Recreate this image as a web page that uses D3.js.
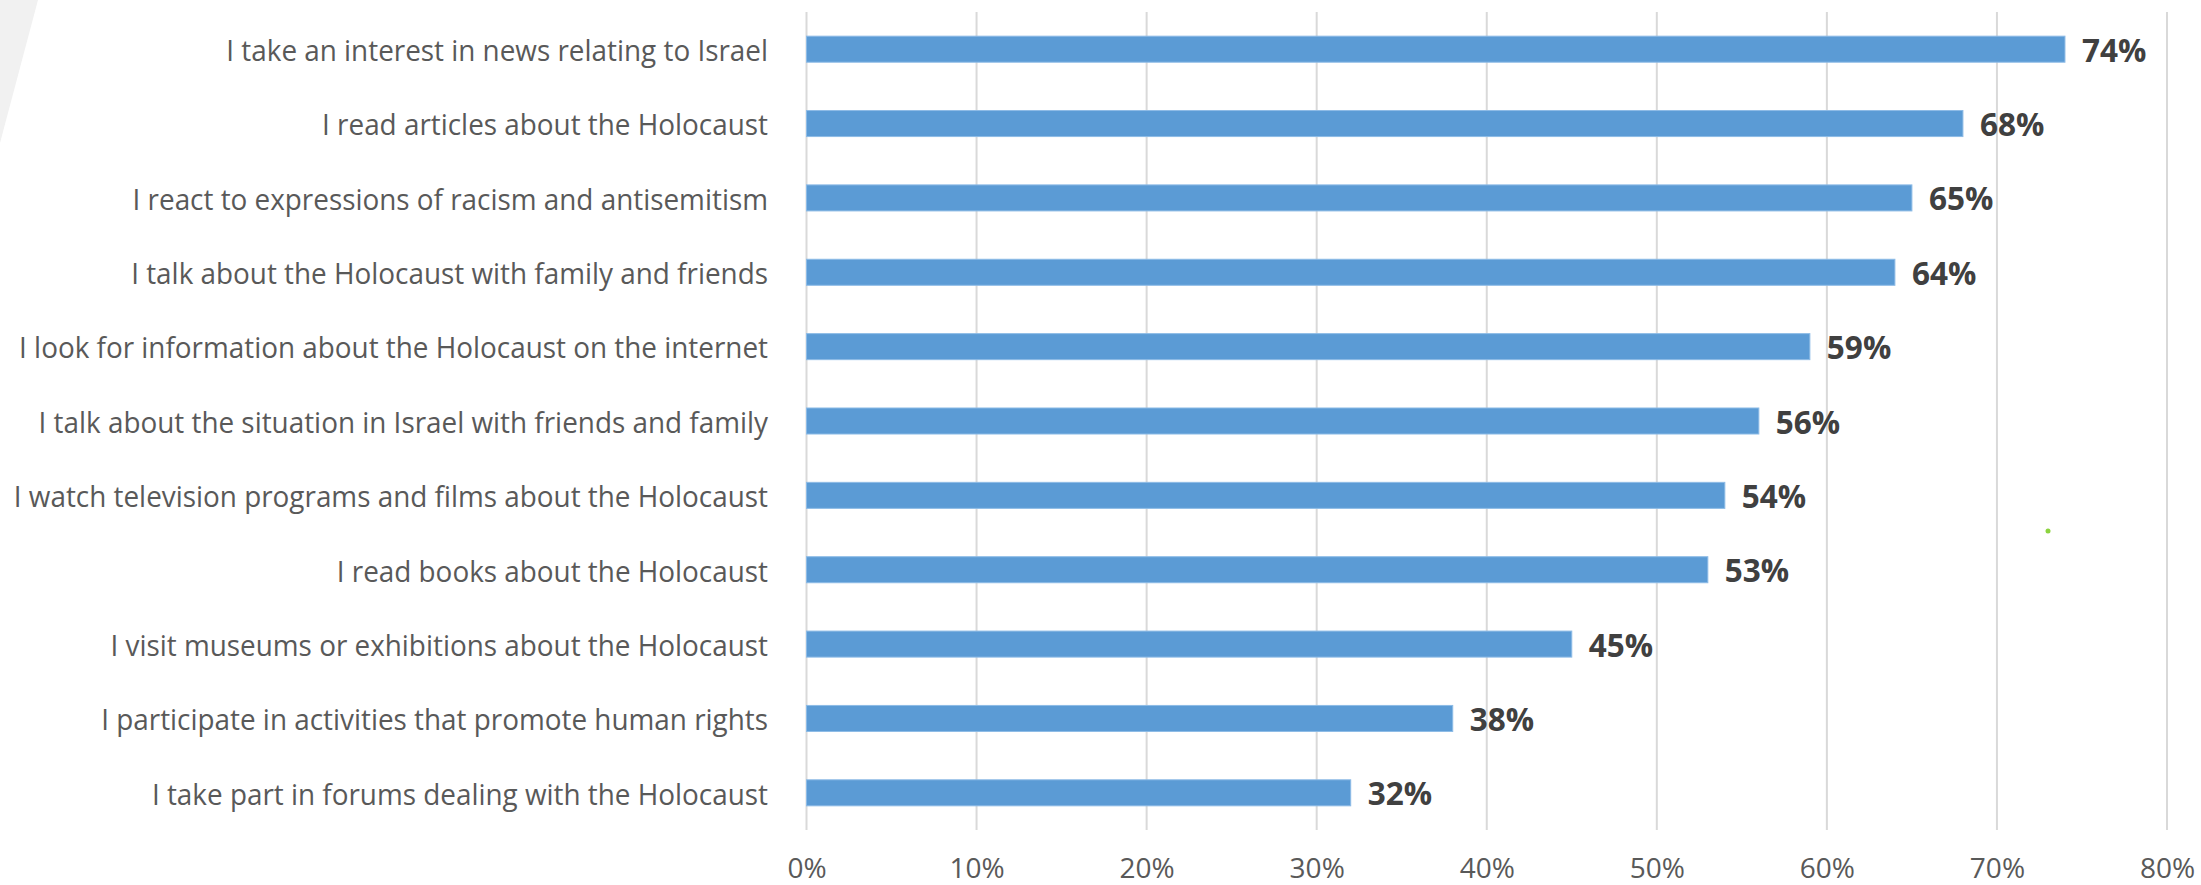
<!DOCTYPE html>
<html>
<head>
<meta charset="utf-8">
<script src="https://cdn.jsdelivr.net/npm/d3@7"></script>
<style>
  html, body { margin: 0; padding: 0; background: #ffffff; }
  svg { display: block; }
</style>
</head>
<body>
<svg id="chart" width="2201" height="885"></svg>
<script>
// Activities, top to bottom
const categories = [
  "I take an interest in news relating to Israel",
  "I read articles about the Holocaust",
  "I react to expressions of racism and antisemitism",
  "I talk about the Holocaust with family and friends",
  "I look for information about the Holocaust on the internet",
  "I talk about the situation in Israel with friends and family",
  "I watch television programs and films about the Holocaust",
  "I read books about the Holocaust",
  "I visit museums or exhibitions about the Holocaust",
  "I participate in activities that promote human rights",
  "I take part in forums dealing with the Holocaust"
];

// Share of respondents (%)
const values = [74, 68, 65, 64, 59, 56, 54, 53, 45, 38, 32];

// Axis ticks (%)
const tickValues = [0, 10, 20, 30, 40, 50, 60, 70, 80];

const svg = d3.select("#chart");
const FONT = "'Open Sans', 'Noto Sans', sans-serif";

const plot = { left: 806.5, right: 2167, top: 12, bottom: 830 };

const x = d3.scaleLinear().domain([0, 80]).range([plot.left, plot.right]);
const y = d3.scaleBand()
  .domain(categories)
  .range([plot.top, plot.bottom])
  .paddingInner(0.65)
  .paddingOuter(0.325);

// Soft grey slanted panel in the upper-left corner
svg.append("polygon")
  .attr("points", "0,0 38,0 0,143")
  .attr("fill", "#f1f1f1");

// Vertical gridlines
svg.append("g")
  .selectAll("line")
  .data(tickValues)
  .join("line")
  .attr("x1", d => x(d))
  .attr("x2", d => x(d))
  .attr("y1", plot.top)
  .attr("y2", plot.bottom)
  .attr("stroke", "#d9d9d9")
  .attr("stroke-width", 2);

// Bottom axis labels (no domain line, no tick marks)
const xAxis = d3.axisBottom(x)
  .tickValues(tickValues)
  .tickFormat(d => d + "%")
  .tickSize(0)
  .tickPadding(0);

const axisG = svg.append("g")
  .attr("transform", `translate(0, ${plot.bottom})`)
  .call(xAxis);
axisG.select(".domain").remove();
axisG.selectAll("text")
  .attr("y", 37)
  .attr("dy", null)
  .attr("dominant-baseline", "central")
  .attr("font-family", FONT)
  .attr("font-size", 28)
  .attr("fill", "#595959");

// Bars
svg.append("g")
  .selectAll("rect")
  .data(values)
  .join("rect")
  .attr("x", x(0))
  .attr("y", (d, i) => y(categories[i]))
  .attr("width", d => x(d) - x(0))
  .attr("height", y.bandwidth())
  .attr("fill", "#5b9bd5")
  .attr("stroke", "#8dbbe6")
  .attr("stroke-width", 1);

// Category labels, right-aligned against the plot
svg.append("g")
  .selectAll("g")
  .data(categories)
  .join("g")
  .attr("transform", d => `translate(768, ${y(d) + y.bandwidth() / 2}) scale(0.945, 1)`)
  .append("text")
  .attr("text-anchor", "end")
  .attr("dominant-baseline", "central")
  .attr("font-family", FONT)
  .attr("font-size", 29.5)
  .attr("fill", "#595959")
  .text(d => d);

// Value labels at the bar ends
svg.append("g")
  .selectAll("text")
  .data(values)
  .join("text")
  .attr("x", d => x(d) + 17)
  .attr("y", (d, i) => y(categories[i]) + y.bandwidth() / 2)
  .attr("dominant-baseline", "central")
  .attr("font-family", FONT)
  .attr("font-weight", 700)
  .attr("font-size", 31.5)
  .attr("fill", "#404040")
  .text(d => d + "%");

// Small green dot to the right of the bars
svg.append("circle")
  .attr("cx", 2048)
  .attr("cy", 531)
  .attr("r", 2.5)
  .attr("fill", "#8cd33f");
</script>
</body>
</html>
